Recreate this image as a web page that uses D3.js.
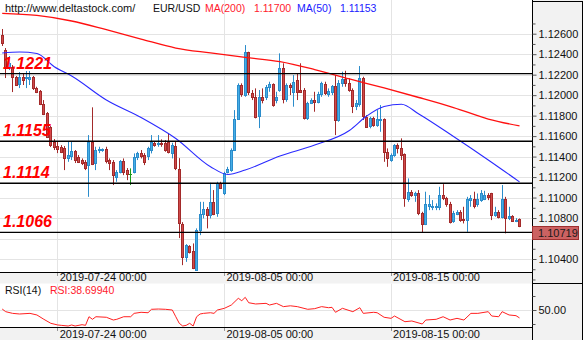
<!DOCTYPE html>
<html>
<head>
<meta charset="utf-8">
<script src="https://cdn.jsdelivr.net/npm/d3@7"></script>
<style>
  html, body { margin: 0; padding: 0; background: #fff; overflow: hidden; }
  svg { display: block; }
  text { font-family: "Liberation Sans", Arial, sans-serif; }
</style>
</head>
<body>
<svg id="chart" width="585" height="340"></svg>
<script>
// EUR/USD, H4 bars
const open = [
  1.12587,1.12441,1.12274,1.12274,1.12177,1.12108,1.12177,1.12167,1.12157,1.12177,
  1.12069,1.12040,1.11913,1.11825,1.11688,1.11542,1.11506,1.11493,1.11483,1.11385,
  1.11405,1.11454,1.11395,1.11366,1.11349,1.11317,1.11545,1.11337,1.11457,1.11459,
  1.11470,1.11366,1.11349,1.11203,1.11252,1.11356,1.11268,1.11229,1.11252,1.11395,
  1.11437,1.11415,1.11398,1.11470,1.11535,1.11522,1.11535,1.11529,1.11545,1.11431,
  1.11503,1.11275,1.10741,1.10415,1.10526,1.10477,1.10291,1.10682,1.10838,1.10884,
  1.10828,1.10958,1.10845,1.11144,1.11040,1.11242,1.11268,1.11464,1.11763,1.12099,
  1.12001,1.12418,1.12023,1.11984,1.11789,1.11978,1.11978,1.12076,1.12108,1.11959,
  1.12050,1.12262,1.11959,1.12099,1.12033,1.12147,1.12050,1.12050,1.11773,1.11920,
  1.11952,1.11935,1.12011,1.12108,1.12011,1.12033,1.12089,1.11757,1.12115,1.12154,
  1.12115,1.12050,1.11893,1.11913,1.12164,1.11789,1.11691,1.11773,1.11708,1.11757,
  1.11763,1.11444,1.11366,1.11415,1.11512,1.11483,1.11424,1.10992,1.11057,1.11024,
  1.11040,1.10845,1.10741,1.10916,1.10904,1.10904,1.10910,1.11024,1.10992,1.10936,
  1.10763,1.10845,1.10861,1.10786,1.10780,1.10975,1.10983,1.10936,1.10975,1.10985,
  1.11024,1.11040,1.10828,1.10861,1.10812,1.10983,1.10796,1.10819,1.10780,1.10786
];
const high = [
  1.12646,1.12460,1.12382,1.12294,1.12187,1.12226,1.12216,1.12235,1.12235,1.12187,
  1.12082,1.12050,1.11952,1.11835,1.11698,1.11571,1.11545,1.11512,1.11503,1.11545,
  1.11545,1.11464,1.11415,1.11382,1.11366,1.11610,1.11881,1.11496,1.11496,1.11480,
  1.11496,1.11382,1.11366,1.11268,1.11366,1.11382,1.11288,1.11285,1.11431,1.11447,
  1.11464,1.11434,1.11496,1.11610,1.11545,1.11610,1.11568,1.11561,1.11627,1.11535,
  1.11545,1.11385,1.10760,1.10545,1.10535,1.10552,1.10699,1.10958,1.10958,1.10907,
  1.11144,1.11073,1.11154,1.11154,1.11252,1.11300,1.11480,1.11854,1.12115,1.12115,
  1.12489,1.12424,1.12050,1.12066,1.12050,1.12066,1.12099,1.12131,1.12115,1.12033,
  1.12408,1.12311,1.12115,1.12115,1.12196,1.12213,1.12311,1.12069,1.11935,1.11969,
  1.12033,1.12033,1.12131,1.12131,1.12066,1.12099,1.12196,1.12147,1.12229,1.12238,
  1.12164,1.12066,1.11952,1.12284,1.12180,1.11805,1.11789,1.11789,1.11854,1.11903,
  1.11773,1.11480,1.11431,1.11522,1.11529,1.11578,1.11431,1.11187,1.11073,1.11057,
  1.11073,1.10861,1.11057,1.11024,1.10975,1.10943,1.11105,1.11131,1.11007,1.10958,
  1.10870,1.10877,1.10877,1.10910,1.11007,1.11024,1.11057,1.11040,1.11073,1.11066,
  1.11043,1.11046,1.10910,1.10877,1.11122,1.11007,1.10910,1.10828,1.10799,1.10796
];
const low = [
  1.12480,1.12167,1.12245,1.12030,1.12089,1.12069,1.12099,1.12069,1.12099,1.12050,
  1.12020,1.11903,1.11805,1.11581,1.11493,1.11464,1.11434,1.11434,1.11268,1.11349,
  1.11366,1.11337,1.11337,1.11317,1.11268,1.11007,1.11317,1.11268,1.11434,1.11447,
  1.11334,1.11268,1.11122,1.11154,1.11236,1.11219,1.11170,1.11122,1.11236,1.11366,
  1.11382,1.11317,1.11366,1.11431,1.11496,1.11496,1.11496,1.11447,1.11431,1.11382,
  1.11268,1.10604,1.10340,1.10372,1.10454,1.10301,1.10291,1.10633,1.10796,1.10699,
  1.10796,1.10828,1.10812,1.11089,1.11024,1.11236,1.11252,1.11454,1.11757,1.11984,
  1.11984,1.12001,1.11952,1.11773,1.11678,1.11920,1.11952,1.12033,1.11887,1.11920,
  1.12033,1.11920,1.11935,1.12001,1.11887,1.11952,1.12025,1.11762,1.11757,1.11913,
  1.11838,1.11920,1.11984,1.12001,1.11984,1.12001,1.11610,1.11740,1.12082,1.12082,
  1.12033,1.11825,1.11854,1.11887,1.11757,1.11683,1.11676,1.11691,1.11691,1.11642,
  1.11349,1.11300,1.11349,1.11398,1.11431,1.11366,1.10910,1.10958,1.11007,1.10958,
  1.10828,1.10656,1.10731,1.10877,1.10877,1.10877,1.10877,1.10975,1.10910,1.10747,
  1.10753,1.10828,1.10763,1.10747,1.10665,1.10910,1.10894,1.10910,1.10958,1.10975,
  1.10975,1.10780,1.10812,1.10796,1.10796,1.10650,1.10780,1.10763,1.10760,1.10711
];
const close = [
  1.12509,1.12265,1.12314,1.12177,1.12099,1.12177,1.12147,1.12177,1.12177,1.12069,
  1.12030,1.11913,1.11815,1.11591,1.11512,1.11493,1.11473,1.11447,1.11385,1.11415,
  1.11454,1.11366,1.11349,1.11339,1.11288,1.11545,1.11334,1.11464,1.11470,1.11470,
  1.11349,1.11339,1.11219,1.11252,1.11356,1.11252,1.11229,1.11229,1.11398,1.11434,
  1.11405,1.11349,1.11480,1.11545,1.11512,1.11535,1.11522,1.11464,1.11447,1.11512,
  1.11288,1.10747,1.10415,1.10535,1.10471,1.10308,1.10682,1.10838,1.10884,1.10828,
  1.10958,1.10845,1.11138,1.11099,1.11236,1.11275,1.11464,1.11763,1.12099,1.12011,
  1.12424,1.12023,1.11984,1.11789,1.11978,1.11952,1.12076,1.12108,1.11903,1.11984,
  1.12262,1.11959,1.12099,1.12082,1.12131,1.12033,1.12033,1.11773,1.11920,1.11952,
  1.11935,1.12011,1.12115,1.12018,1.12043,1.12089,1.11757,1.12115,1.12154,1.12115,
  1.12050,1.11893,1.11920,1.12164,1.11789,1.11691,1.11773,1.11708,1.11763,1.11763,
  1.11437,1.11385,1.11415,1.11512,1.11483,1.11415,1.10992,1.11057,1.11024,1.11040,
  1.10845,1.10741,1.10936,1.10936,1.10916,1.10916,1.11024,1.10992,1.10936,1.10763,
  1.10845,1.10861,1.10780,1.10780,1.10983,1.10992,1.10910,1.10983,1.11040,1.11024,
  1.11004,1.10828,1.10861,1.10812,1.10983,1.10796,1.10819,1.10773,1.10785,1.10719
];

// moving averages, [bar, value]
const ma200 = [
  [0,1.12799],[10,1.12778],[20,1.12724],[30,1.12639],[40,1.12548],[50,1.12460],
  [60,1.12412],[70,1.12368],[80,1.12327],[90,1.12250],[100,1.12158],[110,1.12070],
  [120,1.11977],[130,1.11879],[140,1.11767],[149,1.11700]
];
const ma50 = [
  [0,1.12412],[5,1.12421],[10,1.12407],[15,1.12277],[20,1.12187],[30,1.11953],
  [40,1.11782],[50,1.11577],[60,1.11301],[65,1.11225],[70,1.11269],[80,1.11406],
  [90,1.11513],[100,1.11655],[105,1.11796],[110,1.11889],[115,1.11911],[120,1.11816],
  [130,1.11596],[140,1.11367],[149,1.11153]
];

// RSI(14), [bar, value]
const rsi = [
  [0,51.4],[1,47.6],[3,45.2],[5,44.3],[8,45.2],[10,42.9],[12,36.7],[14,31],[16,28.6],
  [17,28.1],[19,27.1],[20,28.6],[21,27.1],[23,29],[24,28.1],[25,40.4],[26,36.7],[27,40.4],
  [30,39.6],[32,35.7],[33,36.7],[35,40.4],[37,40.4],[38,45.2],[40,46.7],[42,46.1],[43,51],
  [45,51.4],[47,51],[49,50],[50,40.4],[51,31],[52,27.1],[53,28.1],[54,31],[55,27.1],
  [56,40.4],[57,44.3],[58,45.2],[60,46.1],[61,45.2],[62,50],[64,52.4],[66,57.1],[68,66.7],
  [69,63.3],[70,68.1],[71,60.4],[73,58.6],[76,59.5],[77,57.1],[79,59.5],[81,54.8],[83,56],
  [85,54.8],[88,51],[90,51.9],[92,54.8],[94,53.3],[95,53.8],[96,46.7],[98,52.4],[101,47.6],
  [103,53.3],[104,45.2],[107,46.7],[108,46.1],[110,39.6],[112,38.1],[113,41.4],[116,33.3],
  [118,34.3],[121,30],[122,35.7],[125,36.7],[127,40.4],[129,35.7],[131,38.1],[133,35.7],
  [135,45.2],[137,45.2],[140,47.6],[141,41.4],[143,40.4],[144,47.6],[146,42.9],[148,41.9],
  [149,38.6994]
];

// support / resistance levels
const levels = [1.1221, 1.1155, 1.1114, 1.1066];

// time axis
const tickBars = [16, 64, 112];
const tickLabels = ["2019-07-24 00:00", "2019-08-05 00:00", "2019-08-15 00:00"];

// price axis
const priceMajor = d3.range(1.104, 1.12601, 0.002);
const priceMinor = d3.range(1.102, 1.12701, 0.001)
  .filter(v => priceMajor.every(m => Math.abs(m - v) > 1e-7));

const symbol = "EUR/USD";
const ma200Label = "MA(200)", ma50Label = "MA(50)", rsiLabel = "RSI(14)";
const site = "http://www.deltastock.com/";

// ---------- layout ----------
const svg = d3.select("#chart");
const plotR = 532, axisR = 583;
const mainBottom = 272.5, band1Bottom = 283.5, rsiBottom = 327.5, H = 340;

const x = d3.scaleLinear().domain([0, open.length - 1]).range([2.2, 519.5]);
const y = d3.scaleLinear().domain([1.104, 1.126]).range([259, 33.7]);
const yr = d3.scaleLinear().domain([30, 70]).range([324, 296]);

const GRID = "#e4e4e4", PANEL = "#f2f2f2";
const BULL_FILL = "#45aee6", BULL_EDGE = "#2b8ccb";
const BEAR_FILL = "#cf4a4a", BEAR_EDGE = "#a32a2a";

svg.append("rect").attr("width", 585).attr("height", H).attr("fill", "#fff");

// gray bands and axis panel
svg.append("rect").attr("x", 0).attr("y", mainBottom).attr("width", plotR).attr("height", band1Bottom - mainBottom).attr("fill", PANEL);
svg.append("rect").attr("x", 0).attr("y", rsiBottom).attr("width", plotR).attr("height", H - rsiBottom).attr("fill", PANEL);
svg.append("rect").attr("x", plotR).attr("y", 0).attr("width", axisR - plotR).attr("height", H).attr("fill", PANEL);

// clips
const defs = svg.append("defs");
defs.append("clipPath").attr("id", "clipMain").append("rect").attr("x", 0).attr("y", 0).attr("width", plotR).attr("height", mainBottom);
defs.append("clipPath").attr("id", "clipRsi").append("rect").attr("x", 0).attr("y", band1Bottom).attr("width", plotR).attr("height", rsiBottom - band1Bottom);

// grid: main panel
const main = svg.append("g").attr("clip-path", "url(#clipMain)");
main.selectAll("line.hgrid").data(priceMajor).join("line")
  .attr("x1", 0).attr("x2", plotR)
  .attr("y1", d => Math.round(y(d)) + 0.5).attr("y2", d => Math.round(y(d)) + 0.5)
  .attr("stroke", GRID).attr("stroke-width", 1);
main.selectAll("line.vgrid").data(tickBars).join("line")
  .attr("x1", d => Math.floor(x(d)) + 0.5).attr("x2", d => Math.floor(x(d)) + 0.5)
  .attr("y1", 0).attr("y2", mainBottom)
  .attr("stroke", GRID);

// grid: RSI panel
const rsiG = svg.append("g").attr("clip-path", "url(#clipRsi)");
rsiG.append("line").attr("x1", 0).attr("x2", plotR)
  .attr("y1", Math.round(yr(50)) + 0.5).attr("y2", Math.round(yr(50)) + 0.5)
  .attr("stroke", GRID);
rsiG.selectAll("line.vgrid").data(tickBars).join("line")
  .attr("x1", d => Math.floor(x(d)) + 0.5).attr("x2", d => Math.floor(x(d)) + 0.5)
  .attr("y1", band1Bottom).attr("y2", rsiBottom)
  .attr("stroke", GRID);

// candles
const bars = open.map((o, i) => ({ i, o, h: high[i], l: low[i], c: close[i] }));
const edgeOf = d => d.c > d.o ? BULL_EDGE : d.c < d.o ? BEAR_EDGE : "#1a9a1a";
const cg = main.append("g");
cg.selectAll("line.wick").data(bars).join("line")
  .attr("x1", d => Math.floor(x(d.i)) + 0.5).attr("x2", d => Math.floor(x(d.i)) + 0.5)
  .attr("y1", d => y(d.h)).attr("y2", d => y(d.l))
  .attr("stroke", edgeOf).attr("stroke-width", 1);
cg.selectAll("rect.body").data(bars.filter(d => d.c !== d.o)).join("rect")
  .attr("x", d => Math.floor(x(d.i)) - 0.5)
  .attr("y", d => Math.round(y(Math.max(d.o, d.c))) + 0.5)
  .attr("width", 2)
  .attr("height", d => Math.max(1, Math.round(Math.abs(y(d.o) - y(d.c)))))
  .attr("fill", d => d.c > d.o ? BULL_FILL : BEAR_FILL)
  .attr("stroke", edgeOf).attr("stroke-width", 1);
cg.selectAll("line.doji").data(bars.filter(d => d.c === d.o)).join("line")
  .attr("x1", d => Math.floor(x(d.i)) - 1).attr("x2", d => Math.floor(x(d.i)) + 2)
  .attr("y1", d => Math.round(y(d.o)) + 0.5).attr("y2", d => Math.round(y(d.o)) + 0.5)
  .attr("stroke", "#1a9a1a");

// moving averages
const maLine = d3.line().x(d => x(d[0])).y(d => y(d[1])).curve(d3.curveMonotoneX);
main.append("path").attr("d", maLine(ma200)).attr("fill", "none").attr("stroke", "#ff1010").attr("stroke-width", 1.3);
main.append("path").attr("d", maLine(ma50)).attr("fill", "none").attr("stroke", "#2a2aff").attr("stroke-width", 1.1);

// support / resistance lines and their labels
main.selectAll("line.level").data(levels).join("line")
  .attr("x1", 0).attr("x2", plotR)
  .attr("y1", d => y(d)).attr("y2", d => y(d))
  .attr("stroke", "#000").attr("stroke-width", 1.4);
main.selectAll("text.level").data(levels).join("text")
  .attr("x", 3).attr("y", d => y(d) - 5)
  .attr("fill", "#ff0000")
  .attr("font-size", 16).attr("font-weight", "bold").attr("font-style", "italic")
  .text(d => d.toFixed(4));

// RSI line
const rsiLine = d3.line().x(d => x(d[0])).y(d => yr(d[1]));
rsiG.append("path").attr("d", rsiLine(rsi)).attr("fill", "none").attr("stroke", "#ff2020").attr("stroke-width", 1);

// panel borders
const bl = (x1, y1, x2, y2) => svg.append("line").attr("x1", x1).attr("y1", y1).attr("x2", x2).attr("y2", y2).attr("stroke", "#000").attr("stroke-width", 1);
bl(0, mainBottom, plotR, mainBottom);
bl(0, rsiBottom, plotR, rsiBottom);
bl(plotR + 0.5, 0, plotR + 0.5, H);
bl(axisR - 0.5, 1.5, axisR - 0.5, H);
bl(plotR, 1.5, axisR, 1.5);
bl(plotR, band1Bottom, axisR, band1Bottom);

// last price (its marker covers any price label on the same rows)
const lastPrice = close[close.length - 1];
const ly = Math.round(y(lastPrice));

// price axis
const fmt5 = d3.format(".5f");
const priceAxis = svg.append("g").attr("transform", `translate(${plotR + 0.5},0)`)
  .call(d3.axisRight(y).tickValues(priceMajor).tickFormat(fmt5).tickSize(4).tickPadding(2));
const priceMinorAxis = svg.append("g").attr("transform", `translate(${plotR + 0.5},0)`)
  .call(d3.axisRight(y).tickValues(priceMinor).tickFormat("").tickSize(3));
const rsiAxis = svg.append("g").attr("transform", `translate(${plotR + 0.5},0)`)
  .call(d3.axisRight(yr).tickValues([50]).tickFormat(d3.format(".2f")).tickSize(4).tickPadding(2));
const rsiMinorAxis = svg.append("g").attr("transform", `translate(${plotR + 0.5},0)`)
  .call(d3.axisRight(yr).tickValues([30, 70]).tickFormat("").tickSize(3));
[priceAxis, priceMinorAxis, rsiAxis, rsiMinorAxis].forEach(g => {
  g.select(".domain").remove();
  g.selectAll(".tick line").attr("stroke", "#555");
  g.selectAll("text").attr("font-size", 11).attr("fill", "#111")
    .attr("font-family", "'Liberation Sans', Arial, sans-serif");
});
priceAxis.selectAll(".tick").filter(d => Math.abs(y(d) - (ly + 7)) < 12).select("text").remove();

// last price marker
svg.append("rect").attr("x", plotR + 0.5).attr("y", ly + 0.5).attr("width", 46).attr("height", 13)
  .attr("fill", "#cc6262").attr("stroke", "#9e2f2f").attr("stroke-width", 1);
svg.append("text").attr("x", 538).attr("y", ly + 11).attr("font-size", 11).attr("fill", "#1a1a1a")
  .text(fmt5(lastPrice));

// time axis labels (both bands)
[[mainBottom, 281], [rsiBottom, 338]].forEach(([top, base]) => {
  svg.selectAll(null).data(tickBars).join("line")
    .attr("x1", d => Math.floor(x(d)) + 0.5).attr("x2", d => Math.floor(x(d)) + 0.5)
    .attr("y1", top + 0.5).attr("y2", top + 3.5).attr("stroke", "#999");
  svg.selectAll(null).data(tickBars).join("text")
    .attr("x", d => x(d) + 2).attr("y", base)
    .attr("font-size", 11).attr("fill", "#111")
    .text((d, i) => tickLabels[i]);
});

// header
const header = svg.append("g").attr("font-size", 10.5);
header.append("text").attr("x", 5).attr("y", 11.5).attr("font-size", 11).attr("fill", "#111").text(site);
header.append("text").attr("x", 153).attr("y", 11.5).attr("fill", "#111").text(symbol);
header.append("text").attr("x", 205).attr("y", 11.5).attr("fill", "#ff1a2e").text(ma200Label);
header.append("text").attr("x", 254).attr("y", 11.5).attr("fill", "#ff1a2e").text(fmt5(ma200[ma200.length - 1][1]));
header.append("text").attr("x", 297).attr("y", 11.5).attr("fill", "#1a1aff").text(ma50Label);
header.append("text").attr("x", 340).attr("y", 11.5).attr("fill", "#1a1aff").text(fmt5(ma50[ma50.length - 1][1]));

// RSI header
svg.append("text").attr("x", 5).attr("y", 293.5).attr("font-size", 10.5).attr("fill", "#111").text(rsiLabel);
svg.append("text").attr("x", 50).attr("y", 293.5).attr("font-size", 10.5).attr("fill", "#ff1a2e")
  .text("RSI:" + rsi[rsi.length - 1][1].toFixed(5));
</script>
</body>
</html>
